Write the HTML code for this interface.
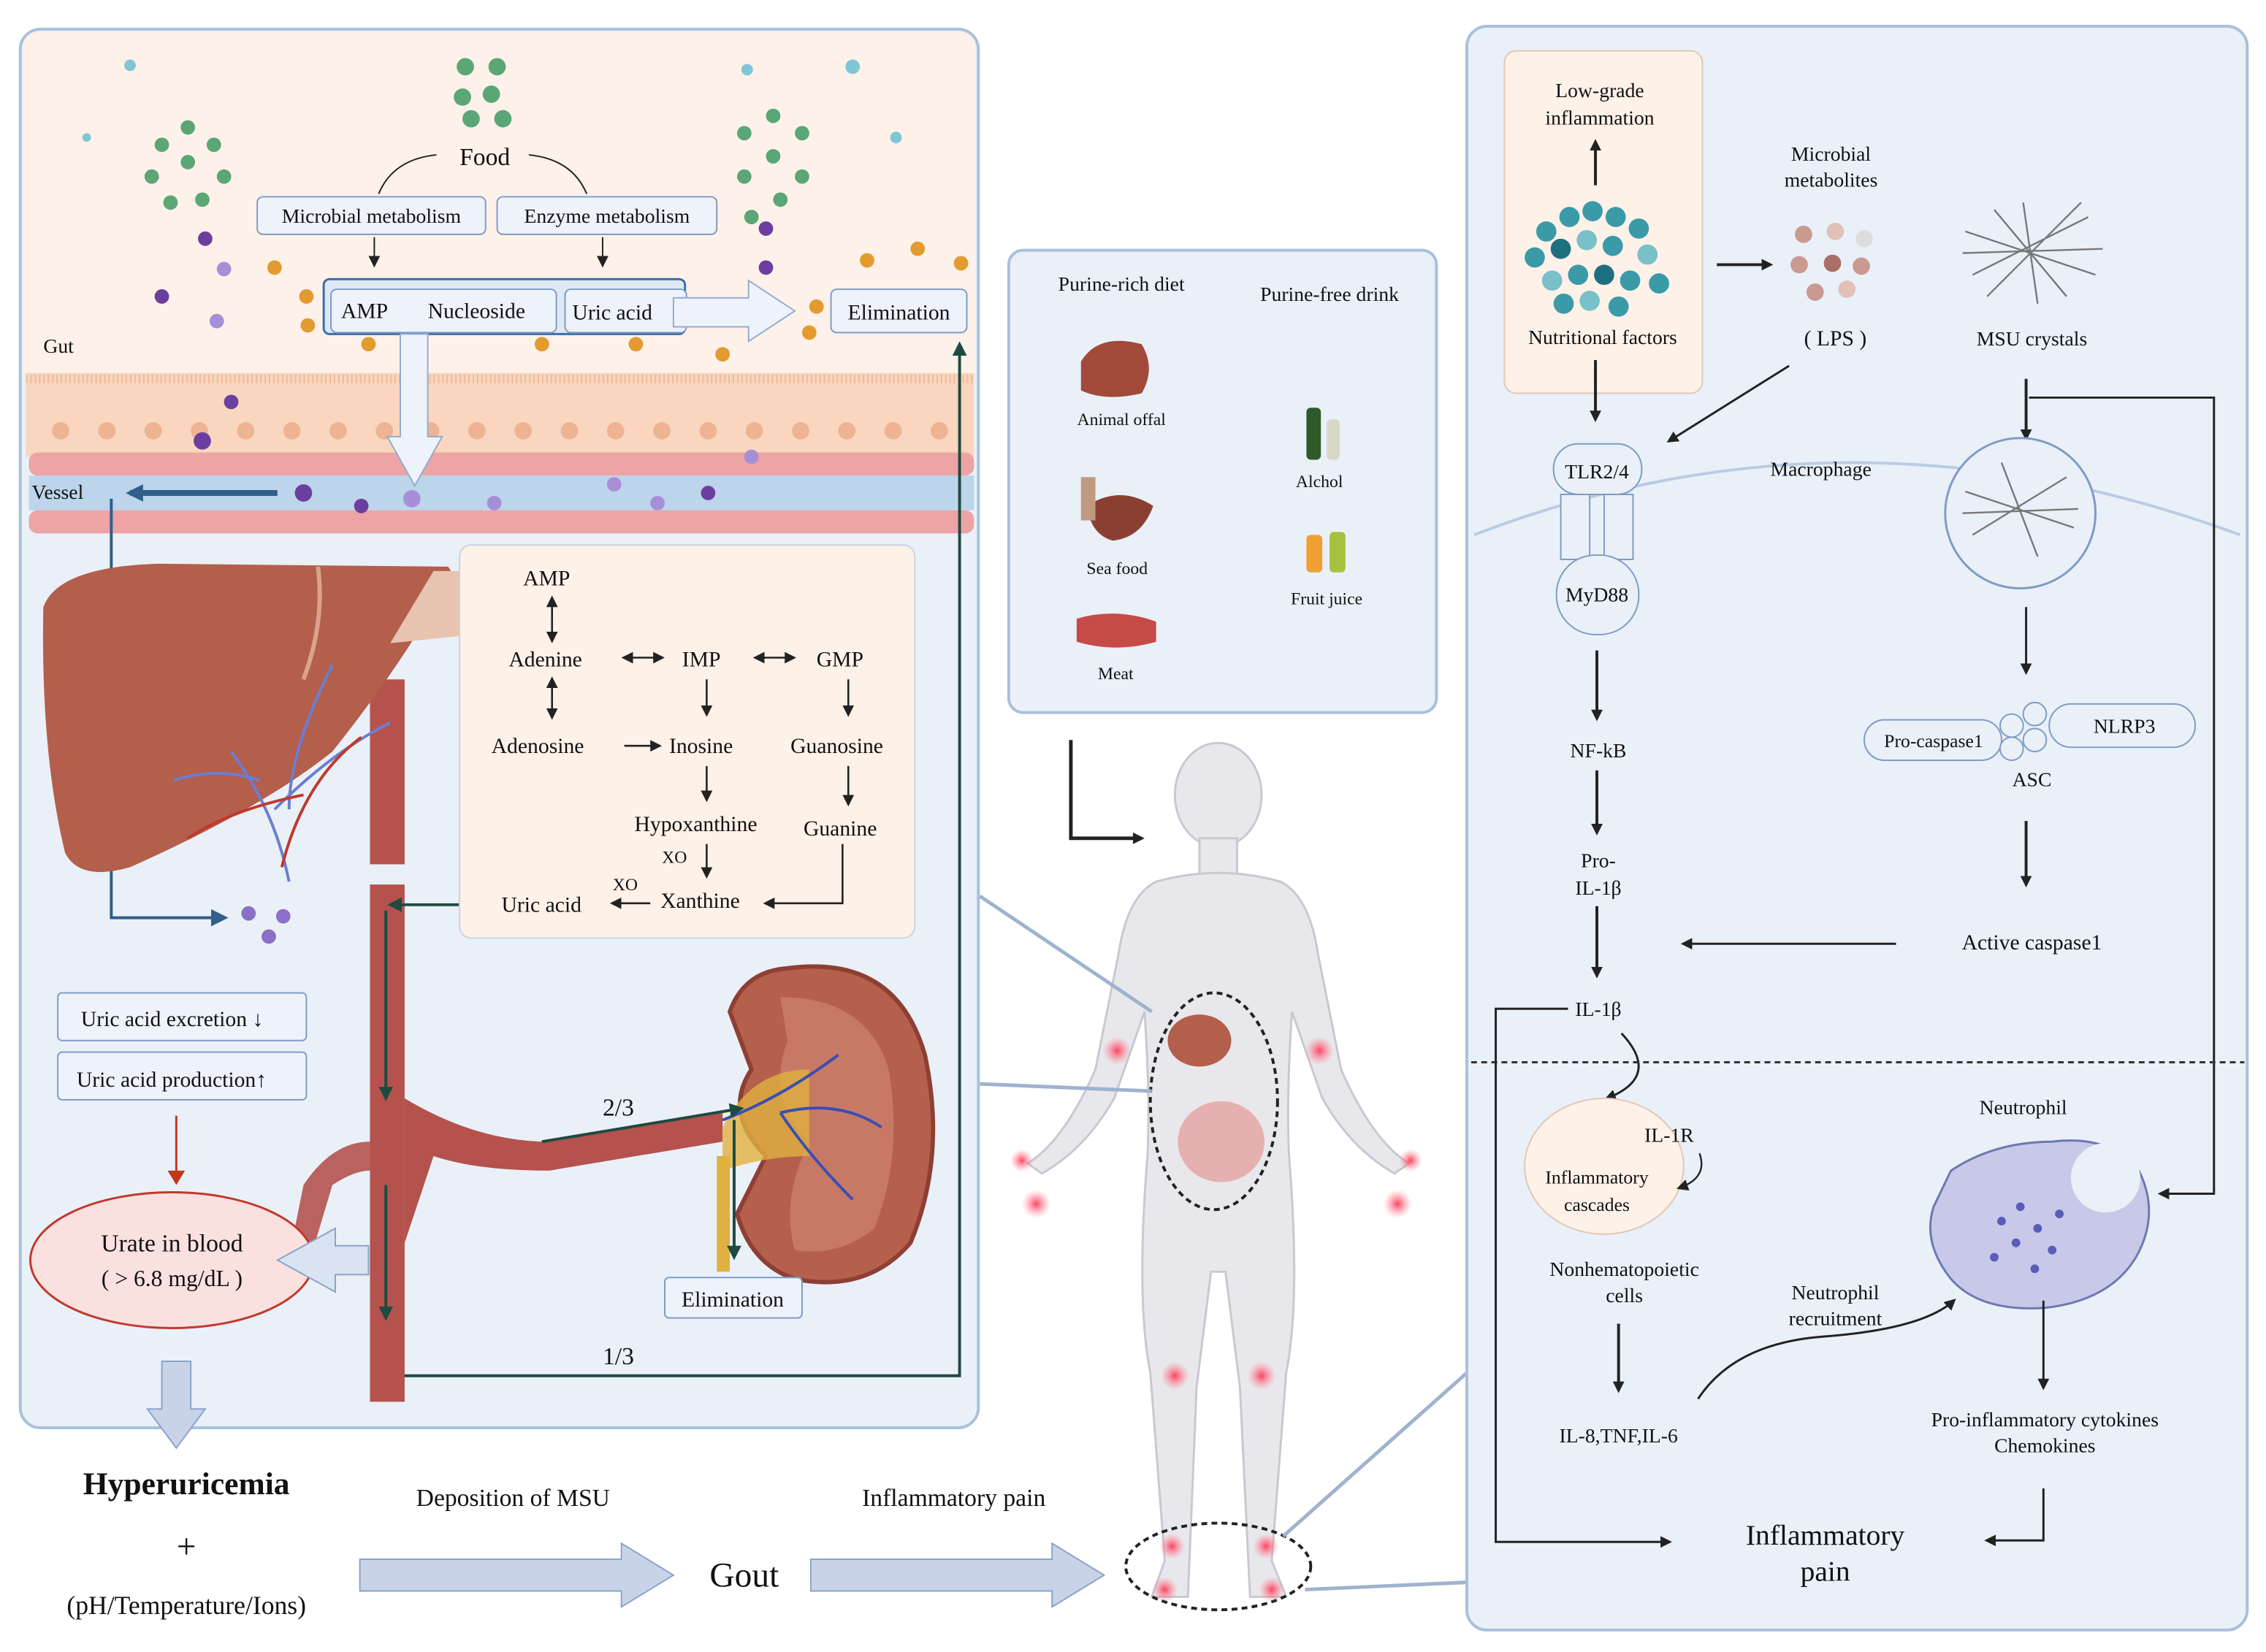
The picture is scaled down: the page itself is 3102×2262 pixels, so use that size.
<!DOCTYPE html>
<html><head><meta charset="utf-8"><style>
html,body{margin:0;padding:0;background:#fff;}
svg{display:block;}
text{font-family:"Liberation Serif",serif;fill:#111;}
</style></head><body>
<svg width="3102" height="2262" viewBox="0 0 1568 1143" xmlns="http://www.w3.org/2000/svg">
<defs>
<marker id="ah" markerWidth="8" markerHeight="8" refX="6" refY="4" orient="auto" markerUnits="userSpaceOnUse"><path d="M0,0 L8,4 L0,8 z" fill="#222"/></marker>
<marker id="ag" markerWidth="10" markerHeight="10" refX="8" refY="5" orient="auto" markerUnits="userSpaceOnUse"><path d="M0,0 L10,5 L0,10 z" fill="#1f4a40"/></marker>
<marker id="ab" markerWidth="12" markerHeight="12" refX="9" refY="6" orient="auto" markerUnits="userSpaceOnUse"><path d="M0,0 L12,6 L0,12 z" fill="#2f5f8a"/></marker>
<radialGradient id="pain"><stop offset="0" stop-color="#ff3050" stop-opacity="0.9"/><stop offset="1" stop-color="#ff8090" stop-opacity="0"/></radialGradient>
</defs>

<!-- LEFT PANEL -->
<rect x="14" y="20" width="663" height="968" rx="14" fill="#eaf0f8" stroke="#a9c0dc" stroke-width="2"/>
<path d="M16,34 Q16,22 28,22 L663,22 Q675,22 675,34 L675,258 L16,258 z" fill="#fdf1e9"/>
<rect x="18" y="258" width="656" height="58" fill="#f9d6bd"/>
<line x1="18" y1="262" x2="674" y2="262" stroke="#efb89a" stroke-dasharray="1 2" stroke-width="6"/>
<g fill="#eeb393">
<circle cx="42" cy="298" r="6"/><circle cx="74" cy="298" r="6"/><circle cx="106" cy="298" r="6"/><circle cx="138" cy="298" r="6"/><circle cx="170" cy="298" r="6"/><circle cx="202" cy="298" r="6"/><circle cx="234" cy="298" r="6"/><circle cx="266" cy="298" r="6"/><circle cx="298" cy="298" r="6"/><circle cx="330" cy="298" r="6"/><circle cx="362" cy="298" r="6"/><circle cx="394" cy="298" r="6"/><circle cx="426" cy="298" r="6"/><circle cx="458" cy="298" r="6"/><circle cx="490" cy="298" r="6"/><circle cx="522" cy="298" r="6"/><circle cx="554" cy="298" r="6"/><circle cx="586" cy="298" r="6"/><circle cx="618" cy="298" r="6"/><circle cx="650" cy="298" r="6"/>
</g>
<rect x="20" y="313" width="654" height="16" rx="6" fill="#eca4a4"/>
<rect x="20" y="329" width="654" height="24" fill="#bcd5ea"/>
<rect x="20" y="353" width="654" height="16" rx="6" fill="#eca4a4"/>
<text x="30" y="244" font-size="14">Gut</text>
<text x="22" y="345" font-size="14">Vessel</text>
<line x1="192" y1="341" x2="90" y2="341" stroke="#2f5f8a" stroke-width="4" marker-end="url(#ab)"/>
<g fill="#3f9a62" opacity="0.85">
<circle cx="322" cy="46" r="6"/><circle cx="344" cy="46" r="6"/><circle cx="320" cy="67" r="6"/><circle cx="340" cy="65" r="6"/><circle cx="326" cy="82" r="6"/><circle cx="348" cy="82" r="6"/>
<circle cx="130" cy="88" r="5"/><circle cx="112" cy="100" r="5"/><circle cx="148" cy="100" r="5"/><circle cx="130" cy="112" r="5"/><circle cx="105" cy="122" r="5"/><circle cx="155" cy="122" r="5"/><circle cx="140" cy="138" r="5"/><circle cx="118" cy="140" r="5"/>
<circle cx="535" cy="80" r="5"/><circle cx="515" cy="92" r="5"/><circle cx="555" cy="92" r="5"/><circle cx="535" cy="108" r="5"/><circle cx="515" cy="122" r="5"/><circle cx="555" cy="122" r="5"/><circle cx="540" cy="138" r="5"/><circle cx="520" cy="150" r="5"/>
</g>
<g fill="#7fc6d6"><circle cx="90" cy="45" r="4"/><circle cx="590" cy="46" r="5"/><circle cx="517" cy="48" r="4"/><circle cx="620" cy="95" r="4"/><circle cx="60" cy="95" r="3"/></g>
<g fill="#6b3fa0"><circle cx="142" cy="165" r="5"/><circle cx="112" cy="205" r="5"/><circle cx="530" cy="158" r="5"/><circle cx="530" cy="185" r="5"/><circle cx="160" cy="278" r="5"/><circle cx="210" cy="341" r="6"/><circle cx="250" cy="350" r="5"/><circle cx="490" cy="341" r="5"/><circle cx="140" cy="305" r="6"/></g>
<g fill="#a68fd8"><circle cx="155" cy="186" r="5"/><circle cx="150" cy="222" r="5"/><circle cx="285" cy="345" r="6"/><circle cx="342" cy="348" r="5"/><circle cx="425" cy="335" r="5"/><circle cx="520" cy="316" r="5"/><circle cx="455" cy="348" r="5"/></g>
<g fill="#e39a2e"><circle cx="190" cy="185" r="5"/><circle cx="212" cy="205" r="5"/><circle cx="213" cy="225" r="5"/><circle cx="255" cy="238" r="5"/><circle cx="375" cy="238" r="5"/><circle cx="440" cy="238" r="5"/><circle cx="500" cy="245" r="5"/><circle cx="560" cy="230" r="5"/><circle cx="635" cy="172" r="5"/><circle cx="665" cy="182" r="5"/><circle cx="600" cy="180" r="5"/><circle cx="565" cy="212" r="5"/></g>
<text x="318" y="114" font-size="17">Food</text>
<path d="M302,107 Q272,110 262,134" fill="none" stroke="#222"/>
<path d="M366,107 Q396,110 406,134" fill="none" stroke="#222"/>
<rect x="178" y="136" width="158" height="26" rx="4" fill="#eef2fa" stroke="#7f9bc4"/>
<text x="257" y="154" font-size="14" text-anchor="middle">Microbial metabolism</text>
<rect x="344" y="136" width="152" height="26" rx="4" fill="#eef2fa" stroke="#7f9bc4"/>
<text x="420" y="154" font-size="14" text-anchor="middle">Enzyme metabolism</text>
<line x1="259" y1="164" x2="259" y2="183" stroke="#222" marker-end="url(#ah)"/>
<line x1="417" y1="164" x2="417" y2="183" stroke="#222" marker-end="url(#ah)"/>
<rect x="224" y="193" width="250" height="38" rx="4" fill="#dfe9f6" stroke="#3d6da6" stroke-width="1.5"/>
<rect x="229" y="200" width="156" height="30" rx="4" fill="#eef2fa" stroke="#7f9bc4"/>
<text x="236" y="220" font-size="15">AMP</text><text x="296" y="220" font-size="15">Nucleoside</text>
<rect x="391" y="200" width="84" height="30" rx="4" fill="#eef2fa" stroke="#7f9bc4"/>
<text x="396" y="221" font-size="15">Uric acid</text>
<path d="M466,206 L518,206 L518,194 L550,215 L518,236 L518,226 L466,226 z" fill="#eef3fb" stroke="#93acd0"/>
<rect x="575" y="200" width="94" height="30" rx="4" fill="#eef2fa" stroke="#7f9bc4"/>
<text x="622" y="221" font-size="15" text-anchor="middle">Elimination</text>
<path d="M277,231 L296,231 L296,302 L306,302 L287,336 L268,302 L277,302 z" fill="#eef3fb" stroke="#93acd0"/>
<polyline points="271,952 664,952 664,238" fill="none" stroke="#1f4a40" stroke-width="2" marker-end="url(#ag)"/>
<polyline points="77,345 77,635 155,635" fill="none" stroke="#2f5f8a" stroke-width="2" marker-end="url(#ab)"/>
<!-- artery -->
<path d="M256,470 L280,470 L280,970 L256,970 z" fill="#b5524e"/>
<rect x="254" y="598" width="28" height="14" fill="#eaf0f8"/>
<!-- liver -->
<path d="M30,420 Q40,392 110,390 L310,392 Q318,400 300,420 Q270,470 230,520 Q180,560 90,600 Q55,610 45,590 Q28,520 30,420 z" fill="#b45e4c"/>
<path d="M220,392 Q225,430 210,470" stroke="#d9a48c" stroke-width="3" fill="none"/>
<path d="M300,395 L318,395 L318,440 L270,445 z" fill="#e8c4b0"/>
<g stroke="#6b7ed0" stroke-width="2" fill="none"><path d="M200,610 Q190,560 160,520 M190,560 Q230,520 270,500 M180,540 Q150,530 120,540 M200,560 Q200,520 230,460"/></g>
<g stroke="#c0392b" stroke-width="2" fill="none"><path d="M195,600 Q210,540 250,510 M210,550 Q160,560 130,580"/></g>
<g fill="#8a70c8"><circle cx="172" cy="632" r="5"/><circle cx="196" cy="634" r="5"/><circle cx="186" cy="648" r="5"/></g>
<path d="M280,760 Q330,790 380,790 L500,770 L500,790 L380,810 Q330,810 300,800 L280,860 z" fill="#b5524e"/>
<path d="M256,790 Q230,790 210,820 L200,870 L215,870 L230,820 Q245,810 256,810 z" fill="#b5524e" opacity="0.9"/>
<line x1="267" y1="630" x2="267" y2="760" stroke="#1f4a40" stroke-width="2" marker-end="url(#ag)"/>
<line x1="267" y1="820" x2="267" y2="912" stroke="#1f4a40" stroke-width="2" marker-end="url(#ag)"/>
<line x1="335" y1="626" x2="270" y2="626" stroke="#1f4a40" stroke-width="2" marker-end="url(#ag)"/>
<!-- pathway box -->
<rect x="318" y="377" width="315" height="272" rx="8" fill="#fdf1e8" stroke="#c8d3e3"/>
<g font-size="15">
<text x="362" y="405">AMP</text>
<text x="352" y="461">Adenine</text><text x="472" y="461">IMP</text><text x="565" y="461">GMP</text>
<text x="340" y="521">Adenosine</text><text x="463" y="521">Inosine</text><text x="547" y="521">Guanosine</text>
<text x="439" y="575">Hypoxanthine</text><text x="556" y="578">Guanine</text>
<text x="458" y="597" font-size="12">XO</text>
<text x="457" y="628">Xanthine</text>
<text x="347" y="631">Uric acid</text>
<text x="424" y="616" font-size="12">XO</text>
</g>
<g stroke="#222" stroke-width="1.3">
<line x1="382" y1="428" x2="382" y2="414" marker-end="url(#ah)"/><line x1="382" y1="428" x2="382" y2="443" marker-end="url(#ah)"/>
<line x1="382" y1="484" x2="382" y2="470" marker-end="url(#ah)"/><line x1="382" y1="484" x2="382" y2="496" marker-end="url(#ah)"/>
<line x1="444" y1="455" x2="432" y2="455" marker-end="url(#ah)"/><line x1="444" y1="455" x2="458" y2="455" marker-end="url(#ah)"/>
<line x1="535" y1="455" x2="523" y2="455" marker-end="url(#ah)"/><line x1="535" y1="455" x2="549" y2="455" marker-end="url(#ah)"/>
<line x1="489" y1="470" x2="489" y2="494" marker-end="url(#ah)"/>
<line x1="587" y1="470" x2="587" y2="494" marker-end="url(#ah)"/>
<line x1="432" y1="516" x2="456" y2="516" marker-end="url(#ah)"/>
<line x1="489" y1="530" x2="489" y2="553" marker-end="url(#ah)"/>
<line x1="587" y1="530" x2="587" y2="556" marker-end="url(#ah)"/>
<line x1="489" y1="584" x2="489" y2="606" marker-end="url(#ah)"/>
<polyline points="583,584 583,625 530,625" fill="none" marker-end="url(#ah)"/>
<line x1="450" y1="625" x2="424" y2="625" marker-end="url(#ah)"/>
</g>
<rect x="40" y="687" width="172" height="33" rx="3" fill="#eef2fa" stroke="#7f9bc4"/>
<text x="56" y="710" font-size="15">Uric acid excretion ↓</text>
<rect x="40" y="728" width="172" height="33" rx="3" fill="#eef2fa" stroke="#7f9bc4"/>
<text x="53" y="752" font-size="15">Uric acid production↑</text>
<line x1="122" y1="772" x2="122" y2="815" stroke="#c0391b" stroke-width="1.5"/>
<path d="M116,810 L122,820 L128,810 z" fill="#c0391b"/>
<ellipse cx="119" cy="872" rx="98" ry="47" fill="#fbe0e0" stroke="#c0392b" stroke-width="1.5"/>
<text x="119" y="866" font-size="17" text-anchor="middle">Urate in blood</text>
<text x="119" y="890" font-size="16" text-anchor="middle">( &gt; 6.8 mg/dL )</text>
<path d="M255,862 L232,862 L232,850 L192,872 L232,894 L232,882 L255,882 z" fill="#d9e3f2" stroke="#8aa3c9"/>
<!-- kidney -->
<path d="M545,670 Q620,660 640,730 Q655,800 630,860 Q600,895 550,885 Q520,875 510,840 L530,800 Q500,770 520,740 L505,700 Q515,672 545,670 z" fill="#b4604c" stroke="#8e3f34" stroke-width="3"/>
<path d="M540,690 Q600,690 615,740 Q625,800 605,850 Q580,870 550,865 Q540,830 560,790 Q530,760 545,720 z" fill="#c87965"/>
<path d="M500,780 Q520,740 560,740 L560,800 Q530,800 500,810 z" fill="#e0b040" opacity="0.8"/>
<g stroke="#3b4fb0" stroke-width="2" fill="none"><path d="M500,775 Q540,760 580,730 M540,770 Q560,800 590,830 M540,770 Q580,760 610,780"/></g>
<path d="M496,800 L505,800 L505,880 L496,880 z" fill="#e0b040"/>
<line x1="375" y1="790" x2="513" y2="767" stroke="#1f4a40" stroke-width="2" marker-end="url(#ag)"/>
<line x1="508" y1="775" x2="508" y2="870" stroke="#1f4a40" stroke-width="2" marker-end="url(#ag)"/>
<text x="417" y="772" font-size="17">2/3</text>
<text x="417" y="944" font-size="17">1/3</text>
<rect x="460" y="884" width="95" height="28" rx="3" fill="#eef2fa" stroke="#7f9bc4"/>
<text x="507" y="904" font-size="15" text-anchor="middle">Elimination</text>

<path d="M112,942 L132,942 L132,975 L142,975 L122,1002 L102,975 L112,975 z" fill="#c9d3e8" stroke="#8aa3c9"/>
<text x="129" y="1034" font-size="22" font-weight="bold" text-anchor="middle">Hyperuricemia</text>
<text x="129" y="1078" font-size="24" text-anchor="middle">+</text>
<text x="129" y="1117" font-size="18" text-anchor="middle">(pH/Temperature/Ions)</text>
<text x="355" y="1042" font-size="17" text-anchor="middle">Deposition of MSU</text>
<path d="M249,1079 L430,1079 L430,1068 L466,1090 L430,1112 L430,1101 L249,1101 z" fill="#c9d3e8" stroke="#8aa3c9"/>
<text x="515" y="1098" font-size="24" text-anchor="middle">Gout</text>
<text x="660" y="1042" font-size="17" text-anchor="middle">Inflammatory pain</text>
<path d="M561,1079 L728,1079 L728,1068 L764,1090 L728,1112 L728,1101 L561,1101 z" fill="#c9d3e8" stroke="#8aa3c9"/>

<rect x="698" y="173" width="296" height="320" rx="10" fill="#eaf0f8" stroke="#a9c0dc" stroke-width="2"/>
<text x="776" y="201" font-size="14" text-anchor="middle">Purine-rich diet</text>
<text x="920" y="208" font-size="14" text-anchor="middle">Purine-free drink</text>
<path d="M748,250 Q760,230 790,238 Q800,255 790,272 Q765,278 748,270 z" fill="#a24a3a"/>
<text x="776" y="294" font-size="12" text-anchor="middle">Animal offal</text>
<path d="M752,350 Q775,335 798,350 Q790,372 770,374 Q755,370 752,350 z" fill="#8a4030"/>
<rect x="748" y="330" width="10" height="30" fill="#c09a80"/>
<text x="773" y="397" font-size="12" text-anchor="middle">Sea food</text>
<path d="M745,428 Q772,420 800,430 L800,444 Q772,452 745,444 z" fill="#c64a48"/>
<text x="772" y="470" font-size="12" text-anchor="middle">Meat</text>
<rect x="904" y="282" width="10" height="36" rx="3" fill="#2e5a2a"/>
<rect x="918" y="290" width="9" height="28" rx="3" fill="#d8d8c8"/>
<text x="913" y="337" font-size="12" text-anchor="middle">Alchol</text>
<rect x="904" y="370" width="11" height="26" rx="3" fill="#f0a030"/>
<rect x="920" y="368" width="11" height="28" rx="3" fill="#a8c040"/>
<text x="918" y="418" font-size="12" text-anchor="middle">Fruit juice</text>
<polyline points="741,512 741,580 790,580" fill="none" stroke="#222" stroke-width="2.5" marker-end="url(#ah)"/>

<g fill="#e8e8ec" stroke="#c8c8d0" stroke-width="1.5">
<ellipse cx="843" cy="550" rx="30" ry="36"/>
<rect x="830" y="580" width="26" height="25"/>
<path d="M800,610 Q843,598 886,610 Q906,620 912,660 L928,740 Q950,790 975,805 L965,812 Q935,795 915,760 L894,700 Q890,760 892,800 Q900,900 890,950 L880,1080 L890,1105 L865,1105 L858,960 L848,880 L838,880 L828,960 L822,1105 L797,1105 L806,1080 L796,950 Q786,900 794,800 Q796,760 792,700 L771,760 Q751,795 721,812 L711,805 Q736,790 758,740 L774,660 Q780,620 800,610 z"/>
</g>
<ellipse cx="840" cy="762" rx="44" ry="75" fill="none" stroke="#222" stroke-width="2" stroke-dasharray="4 3"/>
<ellipse cx="830" cy="720" rx="22" ry="18" fill="#b45e4c"/>
<ellipse cx="845" cy="790" rx="30" ry="28" fill="#e7b0b0"/>
<ellipse cx="843" cy="1084" rx="64" ry="30" fill="none" stroke="#222" stroke-width="2" stroke-dasharray="4 3"/>
<g fill="url(#pain)">
<circle cx="773" cy="727" r="10"/><circle cx="913" cy="727" r="10"/><circle cx="717" cy="833" r="10"/><circle cx="967" cy="833" r="10"/><circle cx="707" cy="803" r="8"/><circle cx="976" cy="803" r="8"/><circle cx="813" cy="952" r="10"/><circle cx="873" cy="952" r="10"/><circle cx="811" cy="1070" r="9"/><circle cx="876" cy="1070" r="9"/><circle cx="806" cy="1100" r="9"/><circle cx="880" cy="1100" r="9"/>
</g>
<g stroke="#9fb3cf" stroke-width="2.5" fill="none">
<line x1="678" y1="620" x2="797" y2="700"/><line x1="678" y1="750" x2="797" y2="755"/>
<line x1="888" y1="1063" x2="1015" y2="950"/><line x1="903" y1="1100" x2="1015" y2="1095"/>
</g>

<rect x="1015" y="18" width="540" height="1110" rx="14" fill="#eaf0f8" stroke="#a9c0dc" stroke-width="2"/>
<path d="M1020,370 Q1280,270 1550,370" fill="none" stroke="#b9cce3" stroke-width="2"/>
<rect x="1041" y="35" width="137" height="237" rx="8" fill="#fdf1e8" stroke="#e2c7b5"/>
<text x="1107" y="67" font-size="14" text-anchor="middle">Low-grade</text>
<text x="1107" y="86" font-size="14" text-anchor="middle">inflammation</text>
<line x1="1104" y1="128" x2="1104" y2="98" stroke="#222" stroke-width="2" marker-end="url(#ah)"/>
<g fill="#3b9aa8">
<circle cx="1070" cy="160" r="7"/><circle cx="1086" cy="150" r="7"/><circle cx="1102" cy="146" r="7"/><circle cx="1118" cy="150" r="7"/><circle cx="1134" cy="158" r="7"/><circle cx="1062" cy="178" r="7"/><circle cx="1080" cy="172" r="7" fill="#1e7080"/><circle cx="1098" cy="166" r="7" fill="#7ac0c8"/><circle cx="1116" cy="170" r="7"/><circle cx="1140" cy="176" r="7" fill="#7ac0c8"/><circle cx="1074" cy="194" r="7" fill="#7ac0c8"/><circle cx="1092" cy="190" r="7"/><circle cx="1110" cy="190" r="7" fill="#1e7080"/><circle cx="1128" cy="194" r="7"/><circle cx="1148" cy="196" r="7"/><circle cx="1100" cy="208" r="7" fill="#7ac0c8"/><circle cx="1120" cy="212" r="7"/><circle cx="1082" cy="210" r="7"/>
</g>
<text x="1109" y="238" font-size="14" text-anchor="middle">Nutritional factors</text>
<line x1="1188" y1="183" x2="1225" y2="183" stroke="#222" stroke-width="2" marker-end="url(#ah)"/>
<text x="1267" y="111" font-size="14" text-anchor="middle">Microbial</text>
<text x="1267" y="129" font-size="14" text-anchor="middle">metabolites</text>
<g fill="#c99a90"><circle cx="1248" cy="162" r="6"/><circle cx="1270" cy="160" r="6" fill="#e0c0b8"/><circle cx="1290" cy="165" r="6" fill="#ddd"/><circle cx="1245" cy="183" r="6"/><circle cx="1268" cy="182" r="6" fill="#a87066"/><circle cx="1288" cy="184" r="6"/><circle cx="1256" cy="202" r="6"/><circle cx="1278" cy="200" r="6" fill="#e0c0b8"/></g>
<text x="1270" y="239" font-size="15" text-anchor="middle">( LPS )</text>
<g stroke="#777" stroke-width="1.2">
<line x1="1360" y1="160" x2="1450" y2="190"/><line x1="1365" y1="190" x2="1445" y2="150"/><line x1="1380" y1="145" x2="1430" y2="205"/><line x1="1400" y1="140" x2="1410" y2="210"/><line x1="1358" y1="175" x2="1455" y2="172"/><line x1="1375" y1="205" x2="1440" y2="140"/>
</g>
<text x="1406" y="239" font-size="14" text-anchor="middle">MSU crystals</text>
<line x1="1104" y1="249" x2="1104" y2="290" stroke="#222" stroke-width="2" marker-end="url(#ah)"/>
<line x1="1238" y1="253" x2="1155" y2="305" stroke="#222" stroke-width="1.5" marker-end="url(#ah)"/>
<line x1="1402" y1="262" x2="1402" y2="303" stroke="#222" stroke-width="2" marker-end="url(#ah)"/>
<polyline points="1404,275 1532,275 1532,826 1495,826" fill="none" stroke="#222" stroke-width="1.5" marker-end="url(#ah)"/>
<rect x="1075" y="307" width="61" height="35" rx="17" fill="#eaf0f8" stroke="#7f9bc4"/>
<rect x="1080" y="342" width="20" height="45" fill="#eaf0f8" stroke="#7f9bc4"/>
<rect x="1110" y="342" width="20" height="45" fill="#eaf0f8" stroke="#7f9bc4"/>
<rect x="1077" y="384" width="57" height="55" rx="27" fill="#eaf0f8" stroke="#7f9bc4"/>
<text x="1105" y="331" font-size="14" text-anchor="middle">TLR2/4</text>
<text x="1105" y="416" font-size="14" text-anchor="middle">MyD88</text>
<text x="1260" y="329" font-size="14" text-anchor="middle">Macrophage</text>
<circle cx="1398" cy="355" r="52" fill="#eaf0f8" stroke="#7f9bc4" stroke-width="1.5"/>
<g stroke="#777" stroke-width="1.2">
<line x1="1360" y1="340" x2="1435" y2="365"/><line x1="1365" y1="370" x2="1430" y2="330"/><line x1="1385" y1="320" x2="1410" y2="385"/><line x1="1358" y1="355" x2="1438" y2="352"/>
</g>
<line x1="1402" y1="420" x2="1402" y2="465" stroke="#222" stroke-width="1.5" marker-end="url(#ah)"/>
<line x1="1105" y1="450" x2="1105" y2="497" stroke="#222" stroke-width="2" marker-end="url(#ah)"/>
<text x="1106" y="524" font-size="14" text-anchor="middle">NF-kB</text>
<line x1="1105" y1="533" x2="1105" y2="576" stroke="#222" stroke-width="2" marker-end="url(#ah)"/>
<text x="1106" y="600" font-size="14" text-anchor="middle">Pro-</text>
<text x="1106" y="619" font-size="14" text-anchor="middle">IL-1β</text>
<line x1="1105" y1="627" x2="1105" y2="675" stroke="#222" stroke-width="2" marker-end="url(#ah)"/>
<text x="1106" y="703" font-size="14" text-anchor="middle">IL-1β</text>
<rect x="1290" y="498" width="95" height="28" rx="14" fill="#eaf0f8" stroke="#7f9bc4"/>
<text x="1338" y="517" font-size="13" text-anchor="middle">Pro-caspase1</text>
<circle cx="1392" cy="502" r="8" fill="#eaf0f8" stroke="#7f9bc4"/><circle cx="1408" cy="494" r="8" fill="#eaf0f8" stroke="#7f9bc4"/><circle cx="1392" cy="518" r="8" fill="#eaf0f8" stroke="#7f9bc4"/><circle cx="1408" cy="512" r="8" fill="#eaf0f8" stroke="#7f9bc4"/>
<rect x="1418" y="487" width="101" height="30" rx="15" fill="#eaf0f8" stroke="#7f9bc4"/>
<text x="1470" y="507" font-size="14" text-anchor="middle">NLRP3</text>
<text x="1406" y="544" font-size="14" text-anchor="middle">ASC</text>
<line x1="1402" y1="568" x2="1402" y2="612" stroke="#222" stroke-width="2" marker-end="url(#ah)"/>
<text x="1406" y="657" font-size="15" text-anchor="middle">Active caspase1</text>
<line x1="1312" y1="653" x2="1165" y2="653" stroke="#222" stroke-width="1.5" marker-end="url(#ah)"/>
<line x1="1018" y1="735" x2="1553" y2="735" stroke="#333" stroke-width="1.5" stroke-dasharray="4 3"/>
<polyline points="1085,698 1035,698 1035,1067 1155,1067" fill="none" stroke="#222" stroke-width="1.5" marker-end="url(#ah)"/>
<path d="M1122,715 Q1150,745 1112,760" fill="none" stroke="#222" stroke-width="1.5" marker-end="url(#ah)"/>
<ellipse cx="1110" cy="807" rx="55" ry="47" fill="#fdf1e8" stroke="#e2c7b5"/>
<text x="1155" y="790" font-size="14" text-anchor="middle">IL-1R</text>
<text x="1105" y="819" font-size="13" text-anchor="middle">Inflammatory</text>
<text x="1105" y="838" font-size="13" text-anchor="middle">cascades</text>
<path d="M1176,798 Q1182,815 1162,822" fill="none" stroke="#222" stroke-width="1.2" marker-end="url(#ah)"/>
<text x="1124" y="883" font-size="14" text-anchor="middle">Nonhematopoietic</text>
<text x="1124" y="901" font-size="14" text-anchor="middle">cells</text>
<line x1="1120" y1="916" x2="1120" y2="962" stroke="#222" stroke-width="2" marker-end="url(#ah)"/>
<text x="1120" y="998" font-size="14" text-anchor="middle">IL-8,TNF,IL-6</text>
<path d="M1175,968 Q1200,930 1260,925 Q1330,920 1352,900" fill="none" stroke="#222" stroke-width="1.5" marker-end="url(#ah)"/>
<text x="1270" y="899" font-size="14" text-anchor="middle">Neutrophil</text>
<text x="1270" y="917" font-size="14" text-anchor="middle">recruitment</text>
<text x="1400" y="771" font-size="14" text-anchor="middle">Neutrophil</text>
<path d="M1350,810 Q1380,790 1420,790 Q1460,785 1480,810 Q1495,840 1478,870 Q1460,900 1415,905 Q1370,908 1350,885 Q1330,860 1338,835 z" fill="#c8c9e8" stroke="#6c78b0" stroke-width="1.5"/>
<circle cx="1457" cy="815" r="24" fill="#eaf0f8"/>
<g fill="#5c5cb8"><circle cx="1385" cy="845" r="3"/><circle cx="1398" cy="835" r="3"/><circle cx="1410" cy="850" r="3"/><circle cx="1395" cy="860" r="3"/><circle cx="1420" cy="865" r="3"/><circle cx="1380" cy="870" r="3"/><circle cx="1408" cy="878" r="3"/><circle cx="1425" cy="840" r="3"/></g>
<line x1="1414" y1="900" x2="1414" y2="960" stroke="#222" stroke-width="1.5" marker-end="url(#ah)"/>
<text x="1415" y="987" font-size="14" text-anchor="middle">Pro-inflammatory cytokines</text>
<text x="1415" y="1005" font-size="14" text-anchor="middle">Chemokines</text>
<polyline points="1414,1030 1414,1066 1375,1066" fill="none" stroke="#222" stroke-width="1.5" marker-end="url(#ah)"/>
<text x="1263" y="1069" font-size="20" text-anchor="middle">Inflammatory</text>
<text x="1263" y="1094" font-size="20" text-anchor="middle">pain</text>
</svg>
</body></html>
